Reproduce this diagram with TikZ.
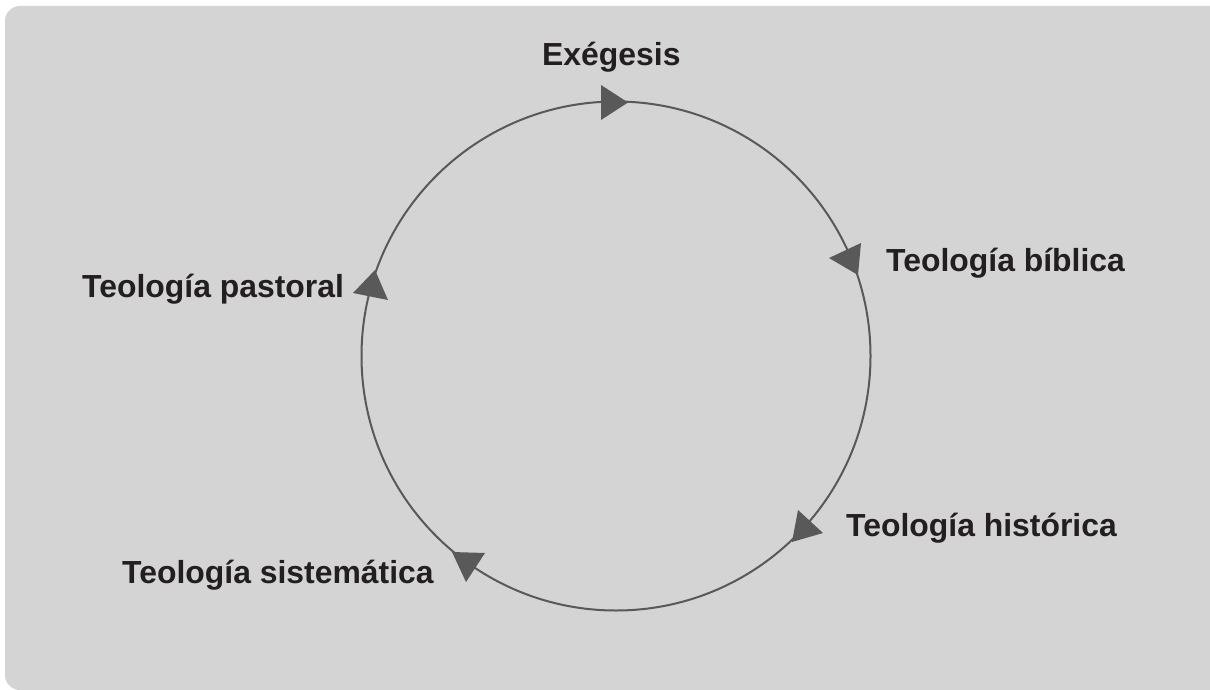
\documentclass[tikz,border=0pt]{standalone}
\usepackage{fontspec}
\setmainfont{Liberation Sans}
\usetikzlibrary{calc}
\definecolor{panelgray}{HTML}{D4D4D4}
\definecolor{ringgray}{HTML}{5A5959}
\definecolor{labelink}{HTML}{231F20}
\tikzstyle{ring}=[draw=ringgray,line width=2pt]
\tikzstyle{tipfill}=[fill=ringgray]
\tikzstyle{stage}=[inner sep=0pt,anchor=base west,text=labelink,font=\fontsize{31.9}{38}\selectfont\bfseries]
\newcommand{\cycletip}[3]{% Syntax: {tip}{base end}{base end}
	\fill[tipfill] (#1) -- (#2) -- (#3) -- cycle;
}

\begin{document}
\begin{tikzpicture}[x=1pt,y=-1pt]
\useasboundingbox (0,0) rectangle (1210,690);
\begin{scope}
	\clip (0,0) rectangle (1210,690);
	\fill[panelgray,rounded corners=15pt] (5,6) rectangle (1225,690);
\end{scope}
\coordinate (c) at (616,356);
\draw[ring] (c) circle (254.5);
% arrow heads round the circle
\cycletip{628,102.5}{601,85}{601,120}
\cycletip{829,258}{861,243}{858,275}
\cycletip{792,542}{798,510}{823,533}
\cycletip{466,582}{452,552}{485,553}
\cycletip{375,270}{353,293}{388,300}
% labels
\node[stage] (exeg) at (542,66) {Exégesis};
\node[stage] (biblica) at (886,271) {Teología bíblica};
\node[stage] (historica) at (846,536) {Teología histórica};
\node[stage] (sistematica) at (122,583) {Teología sistemática};
\node[stage] (pastoral) at (82,297) {Teología pastoral};
\end{tikzpicture}
\end{document}
